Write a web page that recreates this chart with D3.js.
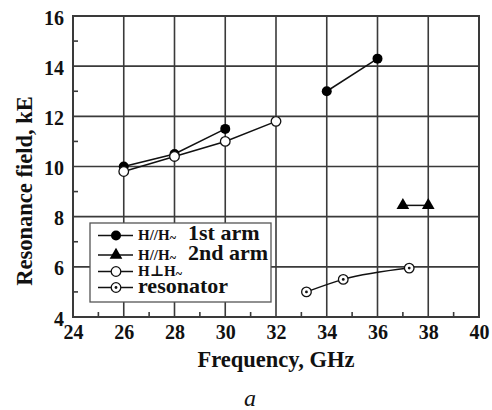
<!DOCTYPE html>
<html>
<head>
<meta charset="utf-8">
<script src="https://cdn.jsdelivr.net/npm/d3@7"></script>
<style>
  html, body { margin: 0; padding: 0; background: #fff; }
  svg { display: block; }
  .tick text { font-family: 'Liberation Serif', 'Times New Roman', serif; font-weight: bold; font-size: 20px; fill: #111; }
</style>
</head>
<body>
<svg id="chart" width="492" height="410"></svg>
<script>
// Resonance field vs frequency
const xTicks = [24, 26, 28, 30, 32, 34, 36, 38, 40];
const yTicks = [4, 6, 8, 10, 12, 14, 16];

// H // H~, first arm (two branches)
const arm1a = [[26, 10.0], [28, 10.5], [30, 11.5]];
const arm1b = [[34, 13.0], [36, 14.3]];
// H // H~, second arm
const arm2 = [[37, 8.45], [38, 8.45]];
// H ⊥ H~
const perp = [[26, 9.8], [28, 10.4], [30, 11.0], [32, 11.8]];
// resonator
const reson = [[33.2, 5.0], [34.65, 5.5], [37.25, 5.95]];

const legendLabels = [
  { main: "H//H", sub: "~", tail: "1st arm", marker: "filled" },
  { main: "H//H", sub: "~", tail: "2nd arm", marker: "triangle" },
  { main: "H\u22A5H", sub: "~", tail: "", marker: "open" },
  { main: "", sub: "", tail: "resonator", marker: "dotted" }
];

const FONT = "'Liberation Serif', 'Times New Roman', 'DejaVu Serif', serif";

const svg = d3.select("#chart");
const pL = 73, pR = 479, pT = 16, pB = 317;
const x = d3.scaleLinear().domain([24, 40]).range([pL, pR]);
const y = d3.scaleLinear().domain([4, 16]).range([pB, pT]);
const gridCol = "#3a3a3a";

// grid
const g = svg.append("g");
g.selectAll("line.vx").data(xTicks.slice(1, -1)).join("line")
  .attr("x1", d => x(d)).attr("x2", d => x(d))
  .attr("y1", pT).attr("y2", pB)
  .attr("stroke", gridCol).attr("stroke-width", 1.6);
g.selectAll("line.hy").data(yTicks.slice(1, -1)).join("line")
  .attr("y1", d => y(d)).attr("y2", d => y(d))
  .attr("x1", pL).attr("x2", pR)
  .attr("stroke", gridCol).attr("stroke-width", 1.6);

// minor inward ticks
const xMinor = d3.range(25, 40, 2);
const yMinor = d3.range(5, 16, 2);
g.selectAll("line.mx").data(xMinor).join("line")
  .attr("x1", d => x(d)).attr("x2", d => x(d))
  .attr("y1", pB).attr("y2", pB - 5)
  .attr("stroke", gridCol).attr("stroke-width", 1.6);
g.selectAll("line.my").data(yMinor).join("line")
  .attr("y1", d => y(d)).attr("y2", d => y(d))
  .attr("x1", pL).attr("x2", pL + 5)
  .attr("stroke", gridCol).attr("stroke-width", 1.6);

// frame
g.append("rect").attr("x", pL).attr("y", pT)
  .attr("width", pR - pL).attr("height", pB - pT)
  .attr("fill", "none").attr("stroke", gridCol).attr("stroke-width", 2);

// axes with labels only (ticks drawn above)
const xAxis = d3.axisBottom(x).tickValues(xTicks).tickSize(0).tickPadding(8);
const yAxis = d3.axisLeft(y).tickValues(yTicks).tickSize(0).tickPadding(9);
const xa = svg.append("g").attr("transform", `translate(0,${pB})`).call(xAxis);
const ya = svg.append("g").attr("transform", `translate(${pL},0)`).call(yAxis);
[xa, ya].forEach(a => a.select(".domain").remove());
ya.selectAll("text").attr("dy", "0.4em");

// axis titles
const titles = svg.append("g").style("font-family", FONT).attr("fill", "#111");
titles.append("text").attr("x", (pL + pR) / 2).attr("y", 367)
  .attr("text-anchor", "middle").style("font-weight", "bold").attr("font-size", 22.5)
  .text("Frequency, GHz");
titles.append("text")
  .attr("transform", `translate(32,191) rotate(-90)`)
  .attr("text-anchor", "middle").style("font-weight", "bold").attr("font-size", 22.5)
  .text("Resonance field, kE");
titles.append("text").attr("x", 250).attr("y", 406)
  .attr("text-anchor", "middle").attr("font-style", "italic").attr("font-size", 24)
  .text("a");

// series lines
const line = d3.line().x(d => x(d[0])).y(d => y(d[1]));
const curved = d3.line().x(d => x(d[0])).y(d => y(d[1])).curve(d3.curveMonotoneX);
const lineGroup = svg.append("g").attr("fill", "none").attr("stroke", "#111").attr("stroke-width", 1.5);
[arm1a, arm1b, arm2, perp].forEach(s => lineGroup.append("path").attr("d", line(s)));
lineGroup.append("path").attr("d", curved(reson));

function drawMarker(sel, type, cx, cy) {
  if (type === "filled") {
    sel.append("circle").attr("cx", cx).attr("cy", cy).attr("r", 5).attr("fill", "#000");
  } else if (type === "open") {
    sel.append("circle").attr("cx", cx).attr("cy", cy).attr("r", 4.8)
      .attr("fill", "#fff").attr("stroke", "#111").attr("stroke-width", 1.3);
  } else if (type === "dotted") {
    sel.append("circle").attr("cx", cx).attr("cy", cy).attr("r", 4.8)
      .attr("fill", "#fff").attr("stroke", "#111").attr("stroke-width", 1.3);
    sel.append("circle").attr("cx", cx).attr("cy", cy).attr("r", 1.4).attr("fill", "#111");
  } else if (type === "triangle") {
    sel.append("path").attr("transform", `translate(${cx},${cy})`)
      .attr("d", d3.symbol().type(d3.symbolTriangle).size(70)()).attr("fill", "#000");
  }
}

const mk = svg.append("g");
[[arm1a, "filled"], [arm1b, "filled"], [arm2, "triangle"], [perp, "open"], [reson, "dotted"]]
  .forEach(([s, t]) => s.forEach(d => drawMarker(mk, t, x(d[0]), y(d[1]))));

// legend
const lg = svg.append("g").style("font-family", FONT).attr("fill", "#111");
lg.append("rect").attr("x", 90).attr("y", 223).attr("width", 181).attr("height", 79)
  .attr("fill", "#fff").attr("stroke", "#555").attr("stroke-width", 1.3);
const rowY = [235.5, 255, 271.5, 287.5];
legendLabels.forEach((L, i) => {
  const cy = rowY[i];
  lg.append("line").attr("x1", 98).attr("x2", 133).attr("y1", cy).attr("y2", cy)
    .attr("stroke", "#111").attr("stroke-width", 1.5);
  drawMarker(lg, L.marker, 116, cy);
  if (L.main) {
    const t = lg.append("text").attr("x", 138).attr("y", cy + 4.5).style("font-weight", "bold");
    t.append("tspan").attr("font-size", 15).text(L.main);
    t.append("tspan").attr("font-size", 12).attr("dy", 2).text(L.sub);
    if (L.tail) {
      lg.append("text").attr("x", 188).attr("y", cy + 4.5).style("font-weight", "bold")
        .attr("font-size", 22).text(L.tail);
    }
  } else {
    lg.append("text").attr("x", 138).attr("y", cy + 5).style("font-weight", "bold")
      .attr("font-size", 22).text(L.tail);
  }
});
</script>
</body>
</html>
